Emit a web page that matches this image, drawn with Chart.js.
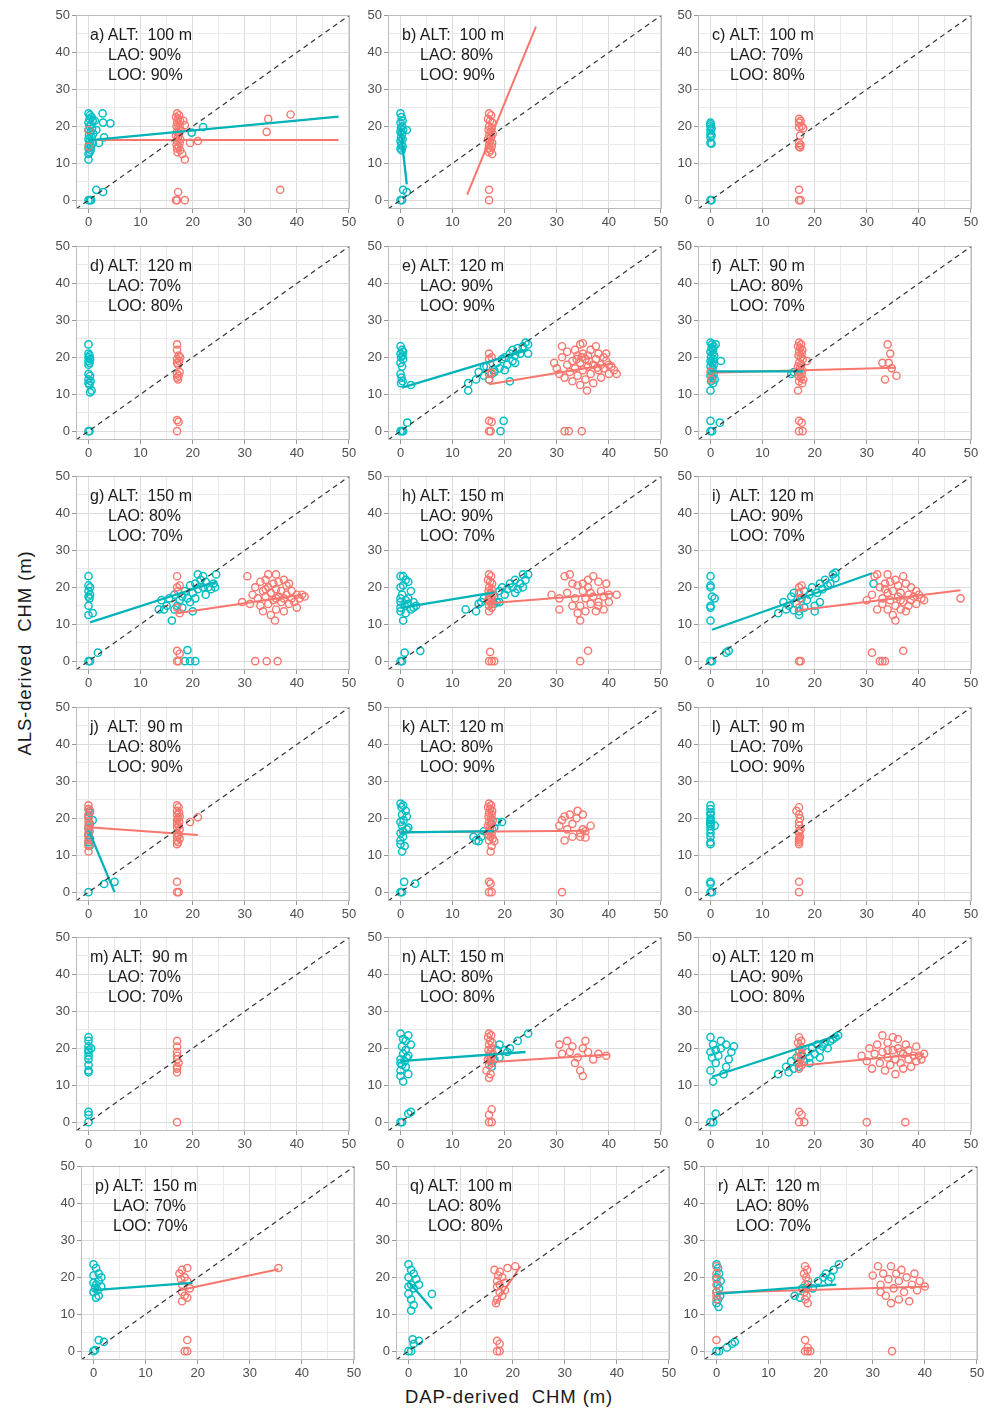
<!DOCTYPE html>
<html><head><meta charset="utf-8">
<script src="https://cdn.jsdelivr.net/npm/chart.js@4/dist/chart.umd.min.js"></script>
<style>
html,body{margin:0;padding:0;background:#fff}
body{width:993px;height:1410px;position:relative;overflow:hidden;font-family:"Liberation Sans",Arial,sans-serif}
canvas{position:absolute}
.lbl{position:absolute;font-size:16px;color:#1a1a1a;white-space:pre;line-height:20px}
.lbl .k{display:inline-block;min-width:14px}
.lbl .ind{padding-left:18px}
.ttl{position:absolute;font-size:18.5px;color:#1a1a1a;white-space:pre;letter-spacing:0.9px}
</style></head><body>
<div class="ttl" id="ytitle" style="left:25px;top:653px;transform:translate(-50%,-50%) rotate(-90deg)">ALS-derived  CHM (m)</div>
<div class="ttl" id="xtitle" style="left:509px;top:1397px;transform:translate(-50%,-50%)">DAP-derived  CHM (m)</div>
<script>
// ---------- panel metadata ----------
const panelIds   = ['a','b','c','d','e','f','g','h','i','j','k','l','m','n','o','p','q','r'];
const altitudes  = [100,100,100,120,120,90,150,150,120,90,120,90,90,150,120,150,100,120];
const laoValues  = [90,80,70,70,90,80,80,90,90,80,80,70,70,80,90,70,80,80];
const looValues  = [90,90,80,80,90,70,70,70,70,90,90,90,70,80,80,70,80,70];
const axisTicks  = [0,10,20,30,40,50];
const oneToOne   = [-2.4, 50];

// ---------- series values [DAP, ALS] ----------
const a_cyan = [[0,23.5],[0.3,23],[0.6,22.5],[0.2,22],[0.8,21.5],[0,21],[0.5,20.5],[0.2,20],[0.7,19.5],[0,19],[0.4,18.5],[0.9,18],[0.1,17.5],[0.6,17],[0,16.5],[0.3,16],[0.8,15.5],[0.1,15],[0.5,14.5],[0,14],[0.4,13.5],[0.2,13],[0,12.5],[0,11],[2.7,23.5],[2.8,21],[4.2,20.8],[3,17],[2,15.5],[1.5,19],[1.2,21.5],[0,0],[0.3,0],[0.5,0],[1.5,2.8],[2.8,2.2],[19.8,18.3],[22,19.8]];
const a_red = [[0,14.5],[0,19],[17,23.5],[17.4,23],[16.8,22.5],[17.2,22],[17.6,21.5],[17,21],[17.5,20.5],[16.9,20],[17.3,19.5],[17.7,19],[17,18.5],[17.4,18],[16.8,17.5],[17.2,17],[17.6,16.5],[17,16],[17.5,15.5],[16.9,15],[17.3,14.5],[17,14],[17.6,13.5],[17.1,13],[18,12.5],[18.5,11],[19.5,15.5],[21,16],[18.5,20.3],[18.2,21.5],[34.5,22],[38.8,23.2],[34.2,18.5],[36.8,2.8],[17.2,2.2],[17,0],[16.8,0],[18.5,0]];
const b_cyan = [[0,23.5],[0.2,22.5],[0.4,21.5],[0,21],[0.3,20],[0.1,19.5],[0.5,19],[1.2,19],[0,18.5],[0.3,18],[0.1,17],[0.4,16.5],[0,16],[0.2,15],[0.4,14.5],[0,14],[0.2,13.5],[0,0],[0.3,0],[0.5,2.8],[1.2,2.2]];
const b_red = [[17,23.5],[17.4,23],[16.8,22],[17.2,21.5],[17.6,21],[17,20],[17.5,19.5],[16.9,19],[17.3,18.5],[17.7,18],[17,17.5],[17.4,17],[16.8,16.5],[17.2,16],[17.6,15.5],[17,15],[17.5,14.5],[16.9,14],[17.3,13.5],[17,13],[17.6,12.5],[17,2.8],[17,0]];
const c_cyan = [[0,21],[0,20.5],[0,20],[0.2,19.5],[0,19],[0,18],[0.2,17.5],[0,17],[0,15.5],[0.2,15.3],[0,0],[0.2,0]];
const c_red = [[17,22],[17.3,21.5],[17,21],[17.5,20],[17,19.8],[17.8,19.5],[17.2,17.5],[17,15.5],[17.3,15],[17,14.5],[17.2,14.3],[17,2.8],[17,0],[17.3,0]];
const d_cyan = [[0,23.5],[0,21],[0.2,20.5],[0,20],[0.3,19.5],[0,19],[0.2,18.5],[0,18],[0,15.5],[0.3,15],[0,14],[0.4,13.5],[0,13],[0.2,12.5],[0.6,11],[0.3,10.5],[0,0],[0.2,0]];
const d_red = [[17,23.5],[17,22],[17.3,20.5],[17.6,20],[17,19.5],[17.4,19],[17,18.5],[17.2,18],[17.5,16],[17,15.5],[17.3,15],[17,14.5],[17.2,14],[17,3],[17.3,2.5],[17,0]];
const e_cyan = [[0,23],[0.3,22],[0.5,21.5],[0,21],[0.4,20.5],[0.1,20],[0.5,19.5],[0,18.5],[0.3,17.5],[0,15.5],[0.2,14.5],[0.4,13.5],[0.1,13],[2,12.5],[0,0],[0.5,0],[0.3,0],[1.3,2.3],[13,11],[13,13],[14.5,14],[15,16],[16,15],[16,17.5],[16.5,17.5],[17,14],[17.5,15.5],[18,16],[18,16.5],[18.5,18.5],[19,17],[19.5,19.5],[20,20],[20,16.5],[20.5,18],[21,21],[21,13.5],[21.5,19],[21.5,22],[22,20.5],[22,18.5],[22.5,22.5],[23,21],[23.5,23],[24,24],[24.5,21],[24.5,23.5],[19.2,0],[19.8,2.8]];
const e_red = [[17,19.5],[17,21],[17.5,20],[17,15.5],[17.5,15.8],[17,14],[17,2.8],[17.5,2.5],[17,0],[17.3,0],[31.5,0],[32.3,0],[34.8,0],[29.5,18.5],[30,17],[30.5,15.5],[31,23],[31,20],[31.5,14.5],[32,18],[32,21.5],[32.5,16],[33,19],[33,13.5],[33.5,22],[33.5,17],[34,20.5],[34,15],[34.5,23.5],[34.5,18.5],[34.5,12.5],[35,21],[35,16.5],[35,23.8],[35.5,19.5],[35.5,14],[35.8,11],[36,17.5],[36,20.5],[36.5,22],[36.5,15.5],[37,18],[37,13],[37.5,23],[37.5,19.5],[38,16.5],[38,21],[38.5,18],[38.5,14.5],[39,20],[39,17],[39.5,19],[40,15.5],[40,18],[40.5,17.5],[41,16.5],[41.5,15.5],[36.2,19],[33.8,19.5],[37.8,17.2],[34.8,20],[39.5,21]];
const f_cyan = [[0,24],[0.3,23.5],[0.6,23],[1,23.5],[0.2,22.5],[0.5,22],[0,21.5],[0.4,21],[0.7,20.5],[0.1,20],[0.5,19.5],[0,19],[2,19],[0.3,18.5],[0.6,18],[0,17.5],[0.4,17],[0.2,16],[0.6,15.5],[0,15],[0.4,14.5],[0.8,14],[0.1,13.5],[0.5,13],[0,11],[0,0],[0.3,0],[0,2.8],[1.8,2.3],[15.5,15.5],[16,16]];
const f_red = [[0,16],[0.2,14],[17,24],[17.4,23.5],[16.8,23],[17.2,22.5],[17.6,22],[17,21.5],[17.5,21],[16.9,20.5],[17.3,20],[17.7,19.5],[18.5,19],[17,18.5],[17.4,18],[16.8,17.5],[17.2,17],[17.6,16.5],[17,16],[17.5,15.5],[16.9,15],[17.3,14.5],[17.8,14],[17,13.5],[17.6,13],[16.8,11],[17,2.8],[17.5,2.3],[17,0],[17.7,0],[33,18.5],[34,23.5],[34.5,21],[34.2,18.5],[33.5,14],[35.7,15],[34.8,17]];
const g_cyan = [[0,23],[0,20.5],[0.3,20],[0,19],[0.3,18],[0,17.5],[0.2,17],[0,15],[0,12.5],[0.8,13],[0,0],[0.3,0],[1.8,2.3],[13.5,14],[14,16.5],[14.5,14],[15,15],[15.5,17],[16,11],[16.5,18],[16.5,14],[17,15],[17.5,16.5],[18,14.5],[18,17.5],[18.5,19],[19,17],[19.5,16],[19.5,20.5],[20,13.5],[20,18.5],[20.5,21],[20.5,17],[21,23.5],[21,19.5],[21.5,22],[22,20],[22,23],[22.5,18],[22.5,21.5],[23,20],[23.5,19.5],[24,21],[24.5,23.5],[24.3,20],[19,3],[18.5,0],[20.5,0],[19.5,0]];
const g_red = [[17,23],[17,20],[17.5,20.5],[17.2,19],[17,14.5],[17.5,13],[17,2.8],[17.5,2],[17,0],[17.3,0],[32,0],[34.2,0],[36.3,0],[30.5,23],[29.5,16],[31,15.5],[31.5,18],[32,20],[32.5,17],[33,21.5],[33,15],[33.5,19],[33.5,13.5],[34,22],[34,17.5],[34.5,23.5],[34.5,15.5],[34.5,20],[35,18.5],[35,12.5],[35.5,21],[35.5,16.5],[35.8,11],[36,23.5],[36,19.5],[36,14],[36.5,17.5],[36.5,21.5],[37,16],[37,19],[37.5,22],[37.5,13.5],[38,18],[38,20.5],[38.5,15.5],[38.5,21],[39,17],[39,19],[39.5,16],[40,18],[40,14.5],[40.5,17],[41,18],[41.5,17.5],[37.5,17],[34,19.5],[36,17]];
const h_cyan = [[0.5,23],[0,23],[1,22],[1.5,21.5],[0,20],[0.5,20.5],[2,19],[0.3,18],[1.5,17],[0,17],[1,16.5],[2.5,16],[0.8,15],[3,15],[2.5,14.5],[0,14.5],[2,14],[1,13],[0,13.5],[0.5,11],[1.5,15.5],[0,16],[0,0],[0.3,0],[0.8,2.3],[3.8,2.8],[12.5,14],[14.5,13.5],[15,15.5],[15.5,16],[16,17],[17,16.5],[18,17.5],[18.5,16],[19,19],[19.5,20],[20,18],[20.5,19.5],[21,21],[21.5,20],[22,22],[22.5,19.5],[23,21],[23.5,23.5],[23.5,20],[24,22],[24.5,23.5],[22,18.5],[19,16],[18,15.5]];
const h_red = [[17,23.5],[17.4,23],[16.8,22],[17.2,21.5],[17.6,21],[17,20],[17.5,19.5],[16.9,19],[17.3,18.5],[17.7,18],[17,17.5],[17.4,17],[16.8,16.5],[17.2,16],[17.6,15.5],[17,15],[17.5,14.5],[17,13.5],[17.2,2.5],[17,0],[17.5,0],[18,0],[34.5,0],[36,2.8],[29,18],[30.5,17],[30.5,14],[31.5,23],[32,18.5],[32.5,23.5],[33,15],[33,21],[33.5,17],[34,20.5],[34,13],[34.5,11],[34.5,15],[35,19],[35,21],[35.5,17],[35.5,13.5],[36,20],[36.5,18.5],[36.5,15.5],[37,23],[37,17.5],[37.5,13.5],[38,21.5],[38,16],[38.5,19],[39,17.5],[39,14],[39.5,21],[40,18],[40,16],[41.5,18],[36,22],[38,15]];
const i_cyan = [[0,23],[0,20.5],[0,20],[0.3,17.5],[0.8,17],[0,15],[0,14.5],[0,11],[0,0],[0.3,0],[3,2.3],[3.5,2.8],[13,13],[14,16],[14.5,14],[15,15],[15.5,17.5],[16,18.5],[16,13.8],[16.5,15.5],[17,13.5],[17,12.5],[17.5,17],[18,19],[18,14.5],[18.5,16.5],[19,18],[19.5,20],[20,15],[20,13.5],[20.5,18.5],[21,21],[21,16],[21.5,19.5],[22,22],[22.5,20.5],[23,21],[23.5,23.5],[24,24],[24,22.5],[31.3,21]];
const i_red = [[17,20],[17.5,20.5],[17,18.5],[17.2,17],[17,14.5],[17,0],[17.3,0],[31,2.3],[32.5,0],[33,0],[33.5,0],[37,2.8],[30,16.5],[31,18],[31.5,23],[32,23.5],[32,14],[32.5,20],[33,17],[33,15.5],[33.5,21],[34,23.5],[34,18.5],[34,14],[34.5,16.5],[34.5,21.5],[35,19],[35,12.5],[35.5,11],[35.5,22],[35.5,15],[36,17.5],[36,20.5],[36.5,14],[36.5,18.5],[37,23],[37,16],[37.5,21],[37.5,13.5],[38,18],[38,15],[38.5,20],[38.5,16.5],[39,17.5],[39.5,19],[39.5,15.5],[40,18],[40.5,17],[41,16.5],[33.5,19.5],[36.5,16.5],[48,17]];
const j_cyan = [[0,22.5],[0.2,21.5],[0,20.5],[0.8,19.5],[0.3,18.5],[0,17.5],[0.2,16.5],[0,15.5],[0.3,14.5],[0,13.5],[0.2,12.5],[0,0],[3,2.2],[5,2.8]];
const j_red = [[0,23.5],[0.3,22],[0,22.5],[0,21],[0,20],[0.2,18.5],[0,19],[0,18],[0,17],[0,16],[0,15],[0,14],[0,13],[0,12.5],[0,11],[17,23.5],[17.3,23],[17,22],[17.4,21.5],[17,21],[17.5,20.5],[17.2,20],[17,19.5],[17.4,19],[17,18.5],[17.3,18],[17,17.5],[17.5,17],[17,16],[17.3,15.5],[17,15],[17.5,14.5],[17,14],[17.2,13.5],[17,13],[19.5,19],[21,20.3],[17,2.8],[17,0],[17.3,0]];
const k_cyan = [[0,24],[0.5,23.5],[0.2,23],[1,22],[0.3,21],[1.2,20.5],[0,19],[0.6,19.5],[1.5,17.5],[1.2,17],[0.3,18],[0,16],[0.5,15],[0,14],[0,13],[0.8,12.5],[0.3,11],[0.5,16.5],[0,0],[0.3,0],[0.7,2.8],[2.8,2.3],[14,15],[14.5,14],[15,13.8],[15.5,15],[16,16.5],[17.5,18.5],[18,17.5],[18.5,19],[19.5,19]];
const k_red = [[17,24],[17.4,23.5],[16.8,23],[17.2,22.5],[17.6,22],[17,21.5],[17.5,21],[16.9,20.5],[17.3,20],[17.7,19.5],[17,19],[17.4,18.5],[16.8,18],[17.2,17.5],[17.6,17],[17,16.5],[17.5,16],[16.9,15.5],[17.3,15],[17.7,14.5],[17,14],[18,13.8],[17.5,12.5],[17.3,11],[17,2.8],[17.3,2.3],[17,0],[17.5,0],[31,0],[30.5,18],[31,19.5],[31.5,14],[31.5,20.5],[32,17],[32.5,21],[33,18.5],[33,15],[33.8,20],[34,22],[34.5,16],[34.5,15],[35,21],[35,17],[35.5,16.5],[35.5,14.8],[36.5,18]];
const l_cyan = [[0,23.5],[0,22.5],[0,21.5],[0,21],[0,20],[0,19.5],[0,19],[0,18.5],[0,18],[0.8,18],[0,17],[0,16],[0,15],[0,13.5],[0,13],[0,2.8],[0,2.3],[0,0],[0.3,0]];
const l_red = [[17,23],[16.5,22],[17,21],[17.2,20],[17,19],[17,18],[17.3,17],[17,16.5],[17,16],[17.2,15],[17,14.5],[17,14],[17,13.5],[17,13],[17,2.8],[17,0]];
const m_cyan = [[0,23],[0,22],[0,20.5],[0.5,20],[0,19.5],[0,19],[0,18],[0,17],[0,15.5],[0,14],[0,13.5],[0,2.8],[0,2],[0,0]];
const m_red = [[17,22],[17,20.5],[17,19],[17,18],[17,17],[17.3,16],[17,15],[17,14.5],[17,13.5],[17,0]];
const n_cyan = [[0,24],[1.5,23.5],[0.5,22.5],[1,22],[2,21],[0.3,20.5],[1,19.5],[0.5,18.5],[1.5,18],[0,17],[0.8,16.5],[0,16],[1,15],[0,14],[1.5,13],[0,12.5],[0.5,11],[0.3,15.5],[1.2,17.5],[0,0],[0.3,0],[1.5,2.3],[2,2.8],[17.5,15],[18,17],[18.5,19.5],[19,17.5],[19,21],[20,19.5],[20.5,19],[21,20],[22.5,22],[24.5,24]];
const n_red = [[17,24],[17.4,23.5],[16.8,23],[17.2,22],[17.6,21.5],[17,21],[17.5,20],[16.9,19.5],[17.3,19],[17.7,18.5],[17,18],[17.4,17.5],[16.8,17],[17.2,16.5],[17.6,16],[17,15.5],[16.5,14],[17.3,13],[17,12],[17.5,3.5],[17,2],[17,0],[17.5,0],[30.5,21],[31,18.5],[32,22],[32.5,19],[33,20.5],[33.5,16],[34,17.5],[34.5,14],[35,20],[35,12.5],[35.5,22],[36,19],[37,17],[38,18.5],[39.5,18]];
const o_cyan = [[0,23],[2,22],[0.5,21],[3,21],[4.5,20.5],[2,20],[0,19],[4,19],[1.5,18],[3.5,17],[1,16],[0,14],[3,15],[2.5,13],[0.5,11],[0.3,17.5],[1,19.5],[0,0],[0.5,0],[1,2.3],[13,13],[14.5,15],[15,13.5],[15.5,16.5],[16,14.5],[16.5,17.5],[17,15],[17,19.5],[17.5,18],[18,16.5],[18.5,19],[19,17.5],[19,16],[19.5,20],[20,18.5],[20.5,21],[21,19.5],[21,17.5],[21.5,20.5],[22,21.5],[22.5,20],[23,22],[23.5,22.5],[24,23],[24.5,23.5]];
const o_red = [[17,23],[17.4,22],[16.8,21.5],[17.2,20.5],[17.6,20],[17,19],[17.5,18.5],[16.9,17.5],[17.3,17],[17,16],[17.5,15.5],[17,14.5],[17,2.8],[17.5,2],[17,0],[18,0],[30,0],[37.4,0],[29,18],[30,16.5],[30.5,20],[31,14.5],[31.5,18.5],[32,21],[32.5,16],[33,19],[33,23.5],[33.5,14],[34,17.5],[34,21.5],[34.5,15.5],[35,19.5],[35,23],[35.5,17],[35.5,13],[36,20],[36,22.5],[36.5,16],[37,18.5],[37,14.5],[37.5,21],[38,17],[38,19.5],[38.5,15],[39,18],[39.5,20.5],[39.5,16.5],[40,18],[40.5,17],[41,18.5],[36.5,19],[34,19.5]];
const p_cyan = [[0,23.5],[0.5,22.5],[1,21],[0,20.5],[1.5,20],[1,19],[0,18.5],[0.5,18],[1.5,17.5],[0.3,17],[0,16],[1,15],[0.5,14.5],[0.8,16.5],[0,0],[1,3],[2,2.5],[0.3,0.3]];
const p_red = [[16.5,21],[17,22],[18,22.5],[17.5,20],[16.8,19.5],[18,19],[17,18],[18.5,17],[17,16],[17.5,15],[18,14.5],[17,13.5],[18,3],[17.5,0],[18,0],[35.5,22.5]];
const q_cyan = [[0,23.5],[0.5,22],[1,21],[0,20],[1.5,19.5],[2,18],[0.5,18],[1,17],[0,17.5],[0,15.5],[0.5,14],[1,12.5],[0.5,11],[4.5,15.5],[0,0],[0.5,0],[0.8,3.2],[1,2],[2,2.8]];
const q_red = [[16.5,22],[17.5,21.5],[17.2,20.5],[18,20],[17,19],[18.5,18.5],[17.5,18],[17,17.5],[18.5,16.5],[17.5,16],[18,15],[17,14],[16.8,13],[19,22.5],[20.5,23],[17,2.8],[17.5,2],[17,0],[17.5,0]];
const r_cyan = [[0,23.5],[0.3,22.5],[0.5,21],[0,20],[0.8,19],[0.2,18],[0.5,17],[0,16],[0.7,15],[0.3,14],[0,13],[0.4,12],[0,0],[0.5,0],[2,1],[3,2],[3.5,2.5],[15,15],[16,14.5],[16.5,17],[17.5,18],[18.5,17],[19.5,19],[20.5,20],[21,21],[21.5,19],[22,20],[22.5,22],[23.5,23.5]];
const r_red = [[0,23],[0,21],[0,19.5],[0,18],[0,16],[0,15],[0,14],[0,3],[17,23],[17.4,22],[16.8,21],[17.2,20],[17.6,19],[17,18],[17.5,17],[16.9,16],[17.3,15],[17,14],[17.5,13],[17,3],[17.5,1],[17,0],[17.5,0],[18,0],[33.7,0],[30,20.5],[31,23],[31.5,18],[31.5,16],[32,21],[32.5,15],[33,19.5],[33.5,23],[33.5,13],[34,17],[34.5,21],[35,14],[35,19],[35.5,22],[36,16],[36.5,20],[37,13.5],[37.5,18],[38,21],[38.5,16.5],[39,19],[40,17.5]];

// ---------- fitted lines (endpoints), null = none ----------
const cyanFits = [
  [[0,16.2],[48,22.6]], [[0,19.5],[1.2,4.3]], null, null,
  [[0.3,11.8],[24.5,22]], [[0,16.2],[17.8,16.2]], [[0.3,10.5],[24.5,21.5]], [[0.3,14.5],[18,18.6]],
  [[0.3,8.5],[31,23.8]], [[0.2,16.2],[5,0]], [[0,16.2],[18,16.5]], null,
  null, [[0,16.5],[24,19]], [[0.3,12.3],[24.5,23.5]], [[0,16.5],[19,18.5]],
  [[0,18.8],[4.5,11.5]], [[0,15.5],[23,18]]
];
const redFits = [
  [[0.3,16.3],[48,16.3]], [[12.8,1.5],[26,47]], null, null,
  [[17,12.7],[41,18.3]], [[0,15.8],[35.5,17.2]], [[17,13],[41,18]], [[17,15.7],[41,18.3]],
  [[17,13.8],[48,19.2]], [[0,17.6],[21,15.5]], [[0,16.2],[36,16.6]], null,
  null, [[17,16.2],[40,18.3]], [[17,15.3],[41,18.5]], [[16.5,16.5],[35.5,22.2]],
  [[16.5,12.5],[21.5,23]], [[0,15.8],[40.5,17.5]]
];
const cyanSets = [a_cyan,b_cyan,c_cyan,d_cyan,e_cyan,f_cyan,g_cyan,h_cyan,i_cyan,j_cyan,k_cyan,l_cyan,m_cyan,n_cyan,o_cyan,p_cyan,q_cyan,r_cyan];
const redSets  = [a_red,b_red,c_red,d_red,e_red,f_red,g_red,h_red,i_red,j_red,k_red,l_red,m_red,n_red,o_red,p_red,q_red,r_red];

// ---------- layout ----------
const colLeft  = [76, 388, 698];
const colLeft6 = [81, 396, 704];
const rowTop   = [14, 245, 475, 706, 936, 1165];
const PW = 274, PH = 195, PADL = 40, PADT = 9, PADR = 12, PADB = 24;
const CYAN = '#00BFC4', RED = '#F8766D';

const pts = arr => arr.map(p => ({x: p[0], y: p[1]}));
const frame = { id: 'frame', afterDraw(ch) {
  const a = ch.chartArea, c = ch.ctx; c.save();
  c.strokeStyle = '#bcbcbc'; c.lineWidth = 1;
  c.strokeRect(Math.round(a.left) + 0.5, Math.round(a.top) + 0.5, Math.round(a.right - a.left) - 1, Math.round(a.bottom - a.top) - 1);
  c.restore(); } };

function axisOpts(isX) {
  return {
    type: 'linear', min: -2.4, max: 50.2,
    ticks: { stepSize: 5, includeBounds: false, autoSkip: false, maxRotation: 0, padding: 2,
             color: '#4d4d4d', font: { size: 13, family: 'Liberation Sans' },
             callback: v => axisTicks.includes(v) ? String(v) : '' },
    grid: { lineWidth: 1, drawTicks: true, tickLength: 4,
            color: c => (c.tick && axisTicks.includes(c.tick.value)) ? '#dcdcdc' : '#eaeaea',
            tickColor: c => (c.tick && axisTicks.includes(c.tick.value)) ? '#999999' : 'rgba(0,0,0,0)' },
    border: { display: false },
    afterFit: s => { if (isX) s.height = PADB; else s.width = PADL; }
  };
}

panelIds.forEach((id, i) => {
  const r = Math.floor(i / 3), c = i % 3;
  const L = (r === 5 ? colLeft6 : colLeft)[c], T = rowTop[r];
  const cv = document.createElement('canvas');
  cv.width = PADL + PW + PADR; cv.height = PADT + PH + PADB;
  cv.style.left = (L - PADL) + 'px'; cv.style.top = (T - PADT) + 'px';
  cv.style.width = cv.width + 'px'; cv.style.height = cv.height + 'px';
  document.body.appendChild(cv);

  const ds = [];
  ds.push({ data: pts([[oneToOne[0], oneToOne[0]], [oneToOne[1], oneToOne[1]]]), showLine: true, pointRadius: 0,
            borderColor: '#333333', borderWidth: 1.2, borderDash: [5, 4], order: 0 });
  if (cyanFits[i]) ds.push({ data: pts(cyanFits[i]), showLine: true, pointRadius: 0, borderColor: '#00B3B8', borderWidth: 2.3, order: 1 });
  if (redFits[i]) ds.push({ data: pts(redFits[i]), showLine: true, pointRadius: 0, borderColor: RED, borderWidth: 2, order: 2 });
  ds.push({ data: pts(redSets[i]), pointRadius: 3.6, pointBorderWidth: 1.4, pointBackgroundColor: 'rgba(0,0,0,0)', pointBorderColor: RED, order: 3 });
  ds.push({ data: pts(cyanSets[i]), pointRadius: 3.6, pointBorderWidth: 1.5, pointBackgroundColor: 'rgba(0,0,0,0)', pointBorderColor: CYAN, order: 4 });

  new Chart(cv, {
    type: 'scatter',
    data: { datasets: ds },
    options: {
      responsive: false, animation: false, devicePixelRatio: 1, events: [],
      layout: { padding: { top: PADT, right: PADR, left: 0, bottom: 0 } },
      plugins: { legend: { display: false }, tooltip: { enabled: false } },
      scales: { x: axisOpts(true), y: axisOpts(false) }
    },
    plugins: [frame]
  });

  const lab = document.createElement('div');
  lab.className = 'lbl';
  lab.style.left = (L + 14) + 'px'; lab.style.top = (T + 11) + 'px';
  lab.innerHTML = '<div><span class="k">' + id + ')</span> ALT:  ' + altitudes[i] + ' m</div>' +
                  '<div class="ind">LAO: ' + laoValues[i] + '%</div>' +
                  '<div class="ind">LOO: ' + looValues[i] + '%</div>';
  document.body.appendChild(lab);
});
</script>
</body></html>
